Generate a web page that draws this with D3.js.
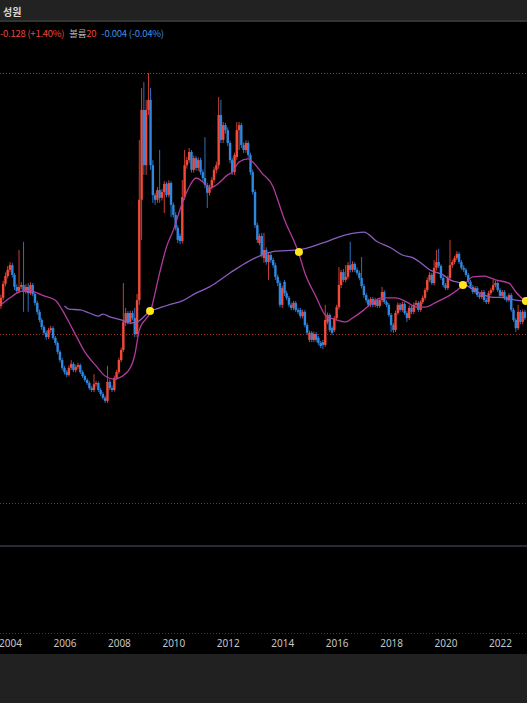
<!DOCTYPE html>
<html><head><meta charset="utf-8">
<script src="https://cdn.jsdelivr.net/npm/d3@7"></script>
<style>html,body{margin:0;padding:0;background:#000;overflow:hidden}</style>
</head><body><svg id="c" width="527" height="703"></svg>
<script>
// ---- data (JPY/KRW per 100 yen, monthly) ----
const months = [
"2003-09","2003-10","2003-11","2003-12",
"2004-01","2004-02","2004-03","2004-04","2004-05","2004-06","2004-07","2004-08","2004-09","2004-10","2004-11","2004-12",
"2005-01","2005-02","2005-03","2005-04","2005-05","2005-06","2005-07","2005-08","2005-09","2005-10","2005-11","2005-12",
"2006-01","2006-02","2006-03","2006-04","2006-05","2006-06","2006-07","2006-08","2006-09","2006-10","2006-11","2006-12",
"2007-01","2007-02","2007-03","2007-04","2007-05","2007-06","2007-07","2007-08","2007-09","2007-10","2007-11","2007-12",
"2008-01","2008-02","2008-03","2008-04","2008-05","2008-06","2008-07","2008-08","2008-09","2008-10","2008-11","2008-12",
"2009-01","2009-02","2009-03","2009-04","2009-05","2009-06","2009-07","2009-08","2009-09","2009-10","2009-11","2009-12",
"2010-01","2010-02","2010-03","2010-04","2010-05","2010-06","2010-07","2010-08","2010-09","2010-10","2010-11","2010-12",
"2011-01","2011-02","2011-03","2011-04","2011-05","2011-06","2011-07","2011-08","2011-09","2011-10","2011-11","2011-12",
"2012-01","2012-02","2012-03","2012-04","2012-05","2012-06","2012-07","2012-08","2012-09","2012-10","2012-11","2012-12",
"2013-01","2013-02","2013-03","2013-04","2013-05","2013-06","2013-07","2013-08","2013-09","2013-10","2013-11","2013-12",
"2014-01","2014-02","2014-03","2014-04","2014-05","2014-06","2014-07","2014-08","2014-09","2014-10","2014-11","2014-12",
"2015-01","2015-02","2015-03","2015-04","2015-05","2015-06","2015-07","2015-08","2015-09","2015-10","2015-11","2015-12",
"2016-01","2016-02","2016-03","2016-04","2016-05","2016-06","2016-07","2016-08","2016-09","2016-10","2016-11","2016-12",
"2017-01","2017-02","2017-03","2017-04","2017-05","2017-06","2017-07","2017-08","2017-09","2017-10","2017-11","2017-12",
"2018-01","2018-02","2018-03","2018-04","2018-05","2018-06","2018-07","2018-08","2018-09","2018-10","2018-11","2018-12",
"2019-01","2019-02","2019-03","2019-04","2019-05","2019-06","2019-07","2019-08","2019-09","2019-10","2019-11","2019-12",
"2020-01","2020-02","2020-03","2020-04","2020-05","2020-06","2020-07","2020-08","2020-09","2020-10","2020-11","2020-12",
"2021-01","2021-02","2021-03","2021-04","2021-05","2021-06","2021-07","2021-08","2021-09","2021-10","2021-11","2021-12",
"2022-01","2022-02","2022-03","2022-04","2022-05","2022-06","2022-07","2022-08","2022-09","2022-10","2022-11","2022-12"];

const openV = [999,1020,1056,1076,
1092,1104,1079,1048,1038,1048,1053,1035,1048,1032,1053,1030,
1007,984,963,945,930,919,937,942,917,904,881,860,
840,829,822,840,850,834,842,847,829,819,809,801,
788,783,798,801,783,773,763,755,804,788,783,814,
829,860,886,958,981,958,981,968,927,1014,1272,1503,
1361,1503,1529,1361,1284,1272,1297,1277,1292,1313,1284,1315,
1259,1233,1200,1179,1166,1279,1361,1374,1395,1349,1379,1354,
1374,1343,1328,1310,1290,1305,1323,1349,1361,1490,1426,1464,
1451,1418,1374,1343,1382,1451,1464,1413,1400,1418,1387,1343,
1292,1207,1161,1179,1122,1143,1112,1130,1117,1104,1074,1058,
1002,1061,1032,1020,1002,994,1007,989,989,973,984,950,
912,930,912,927,917,904,906,899,958,976,942,937,
968,996,1053,1086,1066,1074,1104,1092,1107,1092,1084,1071,
1050,1027,1014,1002,1017,1002,1014,999,1014,1035,1009,1002,
976,950,937,981,1002,989,1004,981,968,994,984,1002,
1007,989,1009,1020,1040,1066,1079,1058,1097,1112,1102,1071,
1053,1045,1071,1104,1112,1122,1133,1112,1097,1092,1079,1061,
1048,1035,1045,1027,1022,1035,1014,1009,1032,1040,1053,1058,
1040,1025,1035,1020,1014,1027,989,963,942,984,958,984];

const highV = [1028,1064,1085,1102,
1112,1110,1084,1055,1143,1060,1164,1055,1058,1060,1058,1035,
1012,990,968,950,936,943,948,947,922,908,886,866,
845,834,846,860,855,848,853,851,834,823,813,806,
793,824,807,805,788,778,768,845,810,795,820,835,
866,892,1058,994,986,987,987,994,1030,1426,1559,1575,
1529,1598,1560,1374,1290,1305,1400,1300,1320,1318,1322,1320,
1265,1240,1206,1185,1323,1400,1382,1405,1400,1386,1385,1381,
1380,1350,1433,1316,1311,1330,1356,1370,1536,1529,1472,1470,
1458,1424,1380,1393,1472,1472,1470,1420,1425,1424,1393,1350,
1298,1213,1185,1187,1187,1150,1137,1136,1123,1110,1080,1064,
1051,1066,1038,1025,1008,1012,1012,994,994,990,989,956,
936,935,933,932,922,909,912,1002,982,980,947,973,
1002,1099,1092,1094,1104,1112,1164,1114,1112,1098,1090,1125,
1056,1032,1018,1022,1022,1020,1019,1020,1048,1040,1014,1007,
981,955,987,1008,1007,1010,1009,986,1000,1000,1008,1014,
1012,1014,1026,1046,1072,1086,1084,1117,1143,1146,1106,1076,
1058,1077,1169,1118,1128,1140,1138,1117,1104,1097,1084,1066,
1053,1050,1050,1032,1040,1040,1020,1038,1046,1066,1064,1063,
1045,1040,1040,1025,1032,1032,994,968,1002,989,990,989];

const lowV = [992,1014,1050,1070,
1086,1072,1040,1030,1032,1042,984,1030,984,1027,1024,1000,
977,957,938,924,912,914,930,912,898,875,854,834,
823,816,818,835,829,828,837,824,814,804,796,783,
778,778,792,778,768,758,750,750,783,778,779,808,
824,855,881,948,952,952,962,919,919,1002,1169,1336,
1336,1490,1349,1264,1259,1264,1264,1270,1238,1278,1278,1228,
1226,1193,1161,1158,1160,1272,1352,1366,1342,1342,1347,1346,
1336,1321,1302,1251,1283,1298,1316,1340,1352,1418,1418,1442,
1410,1366,1336,1336,1375,1400,1405,1392,1393,1380,1336,1285,
1200,1161,1155,1124,1110,1105,1066,1110,1097,1066,1050,996,
994,1025,1014,996,988,988,983,978,967,967,944,924,
906,906,906,906,898,891,888,894,952,932,924,932,
962,990,1045,1060,1060,1068,1085,1086,1086,1078,1065,1044,
1020,1008,996,996,996,996,994,994,1008,1004,996,971,
932,930,932,976,984,984,976,958,963,978,978,996,
983,984,1004,1014,1035,1061,1053,1052,1090,1096,1066,1047,
1040,1040,1066,1097,1106,1117,1107,1092,1086,1074,1056,1042,
1030,1030,1022,1017,1017,1009,1004,1004,1027,1035,1047,1035,
1020,1020,1014,1009,1009,984,958,932,937,952,952,963];

const closeV = [1020,1056,1076,1092,
1104,1079,1048,1038,1048,1053,1035,1048,1032,1053,1030,1007,
984,963,945,930,919,937,942,917,904,881,860,840,
829,822,840,850,834,842,847,829,819,809,801,788,
783,798,801,783,773,763,755,804,788,783,814,829,
860,886,958,981,958,981,968,927,1014,1272,1503,1361,
1503,1529,1361,1284,1272,1297,1277,1292,1313,1284,1315,1259,
1233,1200,1169,1166,1279,1361,1374,1395,1349,1379,1354,1374,
1343,1328,1310,1290,1305,1323,1349,1361,1490,1426,1464,1451,
1418,1374,1343,1387,1451,1464,1413,1400,1418,1387,1343,1292,
1207,1169,1179,1130,1143,1112,1130,1117,1104,1074,1058,1002,
1045,1032,1020,1002,994,1007,989,984,973,984,950,930,
930,912,927,912,904,896,899,963,976,937,930,968,
996,1053,1086,1066,1074,1104,1092,1107,1092,1084,1071,1050,
1027,1014,1002,1017,1002,1014,999,1014,1035,1009,1002,976,
950,937,981,1002,989,1004,981,968,994,984,1002,1007,
989,1009,1020,1040,1066,1079,1058,1097,1112,1102,1071,1053,
1045,1071,1104,1112,1122,1133,1112,1097,1092,1079,1061,1048,
1035,1045,1027,1022,1035,1014,1009,1032,1040,1053,1058,1040,
1025,1035,1020,1014,1027,989,963,942,984,958,984,968];

// moving averages
const maShortMonths = ["2003-09","2004-01","2004-05","2004-10","2004-12","2005-04","2005-09","2005-12","2006-03","2006-06","2006-10","2007-03","2007-07","2007-11","2008-01","2008-06","2008-08","2008-10","2009-03","2009-07","2009-10","2010-01","2010-05","2010-08","2010-11","2011-02","2011-05","2011-08","2012-01","2012-03","2012-06","2012-10","2012-12","2013-04","2013-09","2013-11","2014-02","2014-06","2014-08","2014-11","2015-04","2015-08","2016-01","2016-05","2016-08","2017-01","2017-05","2017-09","2018-03","2018-08","2018-12","2019-04","2019-09","2020-03","2020-09","2021-01","2021-06","2021-11","2022-05","2022-08","2022-12"];
const maShortValues = [1002,1020,1035,1040,1035,1025,1014,989,958,924,881,845,819,811,814,840,873,937,986,1084,1151,1194,1264,1305,1328,1318,1302,1310,1336,1343,1369,1377,1369,1341,1305,1272,1220,1169,1140,1084,1022,976,963,958,968,989,1009,1020,1020,1009,996,996,1009,1027,1053,1074,1076,1066,1058,1035,1012];
const maLongMonths = ["2006-01","2006-03","2006-08","2006-12","2007-04","2007-06","2007-09","2008-02","2008-06","2008-09","2009-03","2009-07","2009-11","2010-05","2010-11","2011-05","2012-02","2012-09","2013-04","2013-10","2014-08","2015-07","2016-05","2017-01","2017-07","2018-01","2018-06","2018-11","2019-02","2019-06","2019-12","2020-03","2020-09","2021-03","2021-09","2022-04","2022-08","2022-12"];
const maLongValues = [999,991,989,981,973,978,971,963,955,958,986,994,1002,1012,1032,1048,1084,1110,1130,1140,1143,1161,1182,1189,1164,1148,1130,1122,1110,1092,1079,1066,1056,1035,1022,1020,1014,1012];
const crossDates = ["2009-02-22","2014-08-13","2020-08-22","2022-12-15"];
const crossValues = [986,1138,1053,1012];

const yearTicks = [2004,2006,2008,2010,2012,2014,2016,2018,2020,2022];
const titleText = "성원";
const lastPrice = 927;

// ---- drawing ----
const W = 527, H = 703;
const svg = d3.select("#c");
const parseM = d3.timeParse("%Y-%m");
const parseD = d3.timeParse("%Y-%m-%d");
const x = d3.scaleTime().domain([new Date(2004,0,1), new Date(2022,0,1)]).range([10,500]);
const y = d3.scaleLinear().domain([900,1600]).range([344.5,72.2]);

const RED = "#f24a3a", BLUE = "#2f87e0";

svg.append("rect").attr("width",W).attr("height",H).attr("fill","#000");
svg.append("rect").attr("width",W).attr("height",20).attr("fill","#222");
svg.append("rect").attr("y",20).attr("width",W).attr("height",2).attr("fill","#333");
svg.append("text").attr("x",3).attr("y",16).text(titleText)
  .attr("font-family","'Noto Sans CJK KR'").attr("font-weight","bold").attr("font-size",10).attr("fill","#d8d8d8");

const hdr = svg.append("text").attr("x",0).attr("y",37)
  .attr("font-family","'Noto Sans CJK KR'").attr("font-size",9.5).attr("letter-spacing",-0.25);
hdr.append("tspan").attr("fill","#e8463a").text("-0.128 (+1.40%)");
hdr.append("tspan").attr("fill","#b4b4b4").attr("dx",5).text("볼륨");
hdr.append("tspan").attr("fill","#e8463a").text("20");
hdr.append("tspan").attr("fill","#3a8ee0").attr("dx",5).text("-0.004 (-0.04%)");

function hline(yy, color, dash, w){
  svg.append("line").attr("x1",0).attr("x2",W).attr("y1",yy).attr("y2",yy)
    .attr("stroke",color).attr("stroke-width",w||1).attr("stroke-dasharray",dash||null);
}
const maxHigh = d3.max(highV);
hline(Math.round(y(maxHigh))+0.5, "#555", "1,2");
hline(Math.round(y(lastPrice))+0.5, "#a3302a", "1,2");
hline(503.5, "#454545", "1,2");
hline(546, "#272b34", null, 2);
hline(633.5, "#5a2626", "1,5");
svg.append("line").attr("x1",3).attr("x2",W).attr("y1",633.5).attr("y2",633.5)
  .attr("stroke","#1d4e44").attr("stroke-dasharray","1,5");

const candles = months.map((m,i)=>({d:parseM(m),o:openV[i],h:highV[i],l:lowV[i],c:closeV[i]}));
const cw = 2.4;
const g = svg.append("g");
g.selectAll("line.w").data(candles).join("line")
  .attr("x1",d=>x(d.d)).attr("x2",d=>x(d.d))
  .attr("y1",d=>y(d.h)).attr("y2",d=>y(d.l))
  .attr("stroke",d=>d.c>=d.o?RED:BLUE).attr("stroke-width",1).attr("opacity",0.85);
g.selectAll("rect.b").data(candles).join("rect")
  .attr("x",d=>x(d.d)-cw/2).attr("width",cw)
  .attr("y",d=>y(Math.max(d.o,d.c)))
  .attr("height",d=>Math.max(1,Math.abs(y(d.o)-y(d.c))))
  .attr("fill",d=>d.c>=d.o?RED:BLUE);

const line = d3.line().x(d=>x(d.d)).y(d=>y(d.v)).curve(d3.curveMonotoneX);
const maS = maShortMonths.map((m,i)=>({d:parseM(m),v:maShortValues[i]}));
const maL = maLongMonths.map((m,i)=>({d:parseM(m),v:maLongValues[i]}));
svg.append("path").datum(maL).attr("d",line).attr("fill","none").attr("stroke","#8a5cc0").attr("stroke-width",1.3);
svg.append("path").datum(maS).attr("d",line).attr("fill","none").attr("stroke","#b23a9c").attr("stroke-width",1.3);

svg.selectAll("circle.x").data(crossDates.map((s,i)=>({d:parseD(s),v:crossValues[i]}))).join("circle")
  .attr("cx",d=>x(d.d)).attr("cy",d=>y(d.v)).attr("r",4).attr("fill","#ffe71c");

const ax = svg.append("g").attr("transform","translate(0,633)")
  .call(d3.axisBottom(x).tickValues(yearTicks.map(v=>new Date(v,0,1))).tickFormat(d3.timeFormat("%Y")).tickSize(0).tickPadding(7));
ax.select(".domain").remove();
ax.selectAll("text").attr("fill","#c4c4c4").attr("font-size",10).attr("font-family","'Noto Sans'");

svg.append("rect").attr("y",654).attr("width",W).attr("height",H-654).attr("fill","#212121");
</script></body></html>
